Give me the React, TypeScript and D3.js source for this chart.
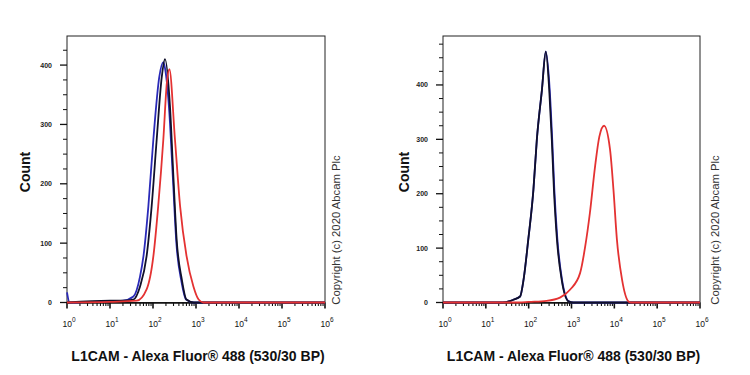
import React from "react";
import * as d3 from "d3";

// ---- Data (fluorescence intensity, count) ----
const leftBlueX = [1, 1.15, 8, 20, 35, 50, 60, 78, 102, 140, 174, 190, 240, 290, 350, 460, 590, 880, 1e6];
const leftBlueY = [17, 0, 2, 3, 10, 44, 78, 162, 275, 380, 405, 395, 320, 210, 100, 35, 5, 0, 0];
const leftBlackX = [1, 10, 20, 35, 50, 71, 93, 122, 160, 190, 248, 295, 355, 468, 600, 890, 1e6];
const leftBlackY = [0, 3, 3, 5, 27, 78, 162, 275, 380, 410, 331, 219, 106, 39, 5, 0, 0];
const leftRedX = [1, 10, 20, 42, 71, 102, 132, 174, 210, 240, 324, 427, 603, 871, 1150, 1480, 1e6];
const leftRedY = [0, 1, 2, 3, 22, 78, 162, 275, 370, 393, 275, 162, 78, 27, 5, 0, 0];

const rightBlueX = [1, 25, 44, 63, 76, 98, 129, 155, 204, 251, 310, 355, 398, 468, 600, 870, 1100, 1e6];
const rightBlueY = [0, 0, 5, 11, 42, 116, 207, 299, 391, 461, 391, 299, 207, 116, 42, 2, 0, 0];
const rightBlackX = [1, 25, 44, 63, 76, 98, 129, 155, 204, 251, 302, 347, 389, 457, 589, 851, 1100, 1e6];
const rightBlackY = [0, 0, 5, 11, 42, 116, 207, 299, 391, 461, 391, 299, 207, 116, 42, 2, 0, 0];
const rightRedX = [1, 60, 100, 263, 537, 933, 1585, 2089, 2692, 3548, 4467, 5754, 7943, 9550, 11480, 15140, 21380, 25000, 1e6];
const rightRedY = [0, 0, 1, 3, 9, 24, 54, 103, 165, 250, 305, 325, 281, 207, 116, 42, 2, 0, 0];

const xTickExponents = ["0", "1", "2", "3", "4", "5", "6"];
const yMajorTicks = [0, 100, 200, 300, 400];
const xAxisTitle = "L1CAM - Alexa Fluor® 488 (530/30 BP)";
const yAxisTitle = "Count";
const copyrightText = "Copyright (c) 2020 Abcam Plc";

const COLORS = { blue: "#2a2ab8", black: "#10102a", red: "#e43232" };
const FONT = "'Liberation Sans', Arial, Helvetica, sans-serif";

type Series = { xs: number[]; ys: number[]; color: string };

function Panel(props: {
  x0: number;
  x1: number;
  yMax: number;
  series: Series[];
  copyX: number;
  countX: number;
}) {
  const { x0, x1, yMax, series, copyX, countX } = props;
  const top = 36;
  const bottom = 302.5;
  const x = d3.scaleLog().domain([1, 1e6]).range([x0, x1]);
  const y = d3.scaleLinear().domain([0, yMax]).range([bottom, top]);

  const line = (s: Series) =>
    d3
      .line<number>()
      .x((_, i) => x(s.xs[i]))
      .y((_, i) => y(s.ys[i]))
      .curve(d3.curveMonotoneX)(s.ys) || "";

  const minorY = d3.range(0, yMax + 0.1, 25).filter((v) => v % 100 !== 0);
  const minorX: number[] = [];
  for (let e = 0; e < 6; e++) for (let m = 2; m <= 9; m++) minorX.push(m * Math.pow(10, e));

  return (
    <g>
      <rect x={x0} y={top} width={x1 - x0} height={bottom - top} fill="none" stroke="#222" strokeWidth={1} />
      {yMajorTicks.map((v) => (
        <g key={"ym" + v}>
          <line x1={x0 - 7} x2={x0} y1={y(v)} y2={y(v)} stroke="#111" strokeWidth={1.3} />
          <text
            x={x0 - 15}
            y={y(v)}
            dy="0.35em"
            textAnchor="end"
            fontSize={7}
            fontFamily={FONT}
            fontWeight="bold"
            fill="#222"
          >
            {v}
          </text>
        </g>
      ))}
      {minorY.map((v) => (
        <line key={"yn" + v} x1={x0 - 4} x2={x0} y1={y(v)} y2={y(v)} stroke="#111" strokeWidth={1} />
      ))}
      {xTickExponents.map((e) => {
        const v = Math.pow(10, +e);
        return (
          <g key={"xm" + e}>
            <line x1={x(v)} x2={x(v)} y1={bottom} y2={bottom + 6} stroke="#111" strokeWidth={1.6} />
            <text x={x(v) + 2} y={326.5} textAnchor="middle" fontSize={8.5} fontFamily={FONT} fill="#111">
              10
              <tspan dy={-5} fontSize={6.5}>
                {e}
              </tspan>
            </text>
          </g>
        );
      })}
      {minorX.map((v, i) => (
        <line key={"xn" + i} x1={x(v)} x2={x(v)} y1={bottom} y2={bottom + 3.5} stroke="#111" strokeWidth={1.1} />
      ))}
      <line x1={x0} x2={x1} y1={bottom + 0.5} y2={bottom + 0.5} stroke="#111" strokeWidth={1.6} />
      {series.map((s, i) => (
        <path key={"s" + i} d={line(s)} fill="none" stroke={s.color} strokeWidth={1.8} strokeLinejoin="round" />
      ))}
      <text
        transform={`translate(${countX},172) rotate(-90)`}
        textAnchor="middle"
        fontSize={14}
        fontWeight="bold"
        fontFamily={FONT}
        fill="#111"
      >
        {yAxisTitle}
      </text>
      <text
        x={(x0 + x1) / 2 + 2}
        y={361}
        textAnchor="middle"
        fontSize={14}
        fontWeight="bold"
        fontFamily={FONT}
        fill="#111"
      >
        {xAxisTitle}
      </text>
      <text
        transform={`translate(${copyX},230) rotate(-90)`}
        textAnchor="middle"
        fontSize={11.3}
        fontFamily={FONT}
        fill="#333"
      >
        {copyrightText}
      </text>
    </g>
  );
}

export default function App() {
  return (
    <svg
      width={750}
      height={375}
      viewBox="0 0 750 375"
      style={{ position: "absolute", left: 0, top: 0, display: "block", background: "#fff" }}
    >
      <rect x={0} y={0} width={750} height={375} fill="#fff" />
      <Panel
        x0={67}
        x1={325}
        yMax={449}
        copyX={340}
        countX={30}
        series={[
          { xs: leftBlueX, ys: leftBlueY, color: COLORS.blue },
          { xs: leftBlackX, ys: leftBlackY, color: COLORS.black },
          { xs: leftRedX, ys: leftRedY, color: COLORS.red },
        ]}
      />
      <Panel
        x0={443}
        x1={700}
        yMax={490}
        copyX={719}
        countX={409}
        series={[
          { xs: rightBlueX, ys: rightBlueY, color: COLORS.blue },
          { xs: rightBlackX, ys: rightBlackY, color: COLORS.black },
          { xs: rightRedX, ys: rightRedY, color: COLORS.red },
        ]}
      />
    </svg>
  );
}
